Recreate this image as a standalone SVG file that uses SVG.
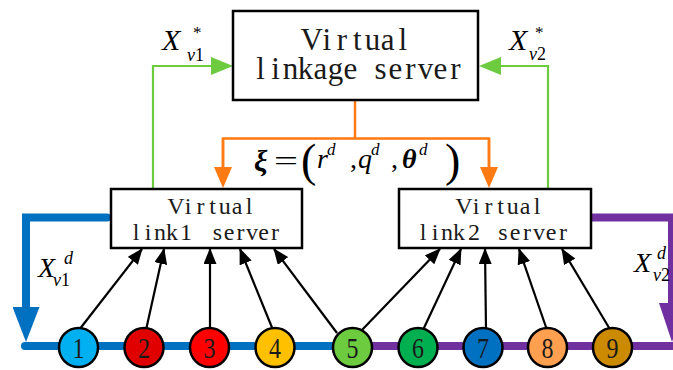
<svg xmlns="http://www.w3.org/2000/svg" width="673" height="370" viewBox="0 0 673 370">
  <style>
    .box { fill: #fff; stroke: #000; stroke-width: 2.5; }
    .cell { font-family: "Liberation Serif", "Times New Roman", serif; fill: #1a1a1a; text-anchor: middle; }
    .big { font-size: 31px; }
    .small { font-size: 24px; }
    .math { font-family: "Liberation Serif", "Times New Roman", serif; font-style: italic; fill: #000; }
    .up { font-style: normal; }
    .num { font-family: "Liberation Serif", "Times New Roman", serif; font-size: 30px; fill: #1a1a1a; text-anchor: middle; }
    .node { stroke: #000; stroke-width: 2.5; }
    .arrow { stroke: #000; stroke-width: 2.2; fill: none; }
    .green { stroke: #6CCB3F; stroke-width: 2.2; fill: none; }
    .orange { stroke: #FF7A12; stroke-width: 2.5; fill: none; }
    .blue { stroke: #0070C0; stroke-width: 8; fill: none; }
    .purple { stroke: #7030A0; stroke-width: 8; fill: none; }
  </style>
  <defs>
    <marker id="head-black" markerUnits="userSpaceOnUse" viewBox="0 0 16 13" markerWidth="16" markerHeight="13" refX="15" refY="6.5" orient="auto">
      <path d="M0,0 L16,6.5 L0,13 Z" fill="#000"/>
    </marker>
    <marker id="head-green" markerUnits="userSpaceOnUse" viewBox="0 0 22 18" markerWidth="22" markerHeight="18" refX="0" refY="9" orient="auto">
      <path d="M0,0 L22,9 L0,18 Z" fill="#6CCB3F"/>
    </marker>
    <marker id="head-orange" markerUnits="userSpaceOnUse" viewBox="0 0 21 18" markerWidth="21" markerHeight="18" refX="0" refY="9" orient="auto">
      <path d="M0,0 L21,9 L0,18 Z" fill="#FF7A12"/>
    </marker>
    <marker id="head-blue" markerUnits="userSpaceOnUse" viewBox="0 0 35 27" markerWidth="35" markerHeight="27" refX="0" refY="13.5" orient="auto">
      <path d="M0,0 L35,13.5 L0,27 Z" fill="#0070C0"/>
    </marker>
    <marker id="head-purple" markerUnits="userSpaceOnUse" viewBox="0 0 39 26" markerWidth="39" markerHeight="26" refX="0" refY="13" orient="auto">
      <path d="M0,0 L39,13 L0,26 Z" fill="#7030A0"/>
    </marker>
  </defs>

  <!-- connectors -->
  <g id="connectors">
    <!-- link 1 feedback loop (blue) and link 2 loop (purple) -->
    <path class="blue" d="M107,217.5 H26 V307" stroke-linecap="round" stroke-linejoin="miter" marker-end="url(#head-blue)"/>
    <path class="blue" d="M25,346 H352" stroke-linecap="round"/>
    <path class="purple" d="M352,346 H680"/>
    <path class="purple" d="M591,217.5 H672 V303" marker-end="url(#head-purple)"/>

    <!-- link servers report to the linkage server (green) -->
    <path class="green" d="M153,189 V66 H211" marker-end="url(#head-green)"/>
    <path class="green" d="M548,189 V66 H501" marker-end="url(#head-green)"/>

    <!-- linkage server broadcasts parameters (orange) -->
    <path class="orange" d="M355,101 V138.5"/>
    <path class="orange" d="M223,167 V138.5 H489 V167"/>
    <path class="orange" d="M223,138.5 V167" marker-end="url(#head-orange)"/>
    <path class="orange" d="M489,138.5 V167" marker-end="url(#head-orange)"/>

    <!-- vehicles to link servers -->
    <line class="arrow" x1="79" y1="330" x2="142" y2="249" marker-end="url(#head-black)"/>
    <line class="arrow" x1="146" y1="330" x2="164" y2="249" marker-end="url(#head-black)"/>
    <line class="arrow" x1="210" y1="330" x2="210" y2="249" marker-end="url(#head-black)"/>
    <line class="arrow" x1="273" y1="330" x2="240" y2="249" marker-end="url(#head-black)"/>
    <line class="arrow" x1="337" y1="333" x2="274" y2="249" marker-end="url(#head-black)"/>
    <line class="arrow" x1="361" y1="331" x2="440" y2="249" marker-end="url(#head-black)"/>
    <line class="arrow" x1="423" y1="330" x2="461" y2="249" marker-end="url(#head-black)"/>
    <line class="arrow" x1="486" y1="330" x2="485" y2="249" marker-end="url(#head-black)"/>
    <line class="arrow" x1="547" y1="330" x2="519" y2="249" marker-end="url(#head-black)"/>
    <line class="arrow" x1="611" y1="331" x2="562" y2="249" marker-end="url(#head-black)"/>
  </g>

  <!-- servers: characters set on a fixed pitch -->
  <g id="linkage-server">
    <rect class="box" x="233" y="11" width="245" height="89"/>
    <text class="cell big" y="50" x="311.6 326.8 342 357.2 372.4 387.6 402.8">Virtual</text>
    <text class="cell big" y="79" x="260.5 275.5 290.5 305.5 320.5 335.5 350.5 365.5 380.5 395.5 410.5 425.5 440.5 455.5">linkage server</text>
  </g>
  <g id="link1-server">
    <rect class="box" x="111" y="189" width="191" height="59"/>
    <text class="cell small" y="214" x="176 188.2 200.4 212.6 224.8 237 249.2">Virtual</text>
    <text class="cell small" y="240" x="136 148 160 172 179 186 206 217.5 229 240.5 252 263.5 275">link 1 server</text>
  </g>
  <g id="link2-server">
    <rect class="box" x="399" y="189" width="192" height="59"/>
    <text class="cell small" y="214" x="464 476.2 488.4 500.6 512.8 525 537.2">Virtual</text>
    <text class="cell small" y="240" x="423 435 447 459 467 474 491 503 515 527 539 551 563">link 2 server</text>
  </g>

  <!-- vehicles -->
  <g id="v1"><circle class="node" cx="78.5" cy="347.5" r="19.5" fill="#00B0F0"/><text class="num" x="78.5" y="358" textLength="12" lengthAdjust="spacingAndGlyphs">1</text></g>
  <g id="v2"><circle class="node" cx="144" cy="347.5" r="19.5" fill="#E00000"/><text class="num" x="144" y="358" textLength="12" lengthAdjust="spacingAndGlyphs">2</text></g>
  <g id="v3"><circle class="node" cx="209.5" cy="347.5" r="19.5" fill="#FF0000"/><text class="num" x="209.5" y="358" textLength="12" lengthAdjust="spacingAndGlyphs">3</text></g>
  <g id="v4"><circle class="node" cx="275" cy="347.5" r="19.5" fill="#FFC000"/><text class="num" x="275" y="358" textLength="12" lengthAdjust="spacingAndGlyphs">4</text></g>
  <g id="v5"><circle class="node" cx="352.5" cy="347.5" r="19.5" fill="#6CCB3F"/><text class="num" x="352.5" y="358" textLength="12" lengthAdjust="spacingAndGlyphs">5</text></g>
  <g id="v6"><circle class="node" cx="418" cy="347.5" r="19.5" fill="#00B050"/><text class="num" x="418" y="358" textLength="12" lengthAdjust="spacingAndGlyphs">6</text></g>
  <g id="v7"><circle class="node" cx="483" cy="347.5" r="19.5" fill="#0070C0"/><text class="num" x="483" y="358" textLength="12" lengthAdjust="spacingAndGlyphs">7</text></g>
  <g id="v8"><circle class="node" cx="547.5" cy="347.5" r="19.5" fill="#FF9F50"/><text class="num" x="547.5" y="358" textLength="12" lengthAdjust="spacingAndGlyphs">8</text></g>
  <g id="v9"><circle class="node" cx="612.5" cy="347.5" r="19.5" fill="#CC8A00"/><text class="num" x="612.5" y="358" textLength="12" lengthAdjust="spacingAndGlyphs">9</text></g>

  <!-- labels -->
  <g id="labels">
    <text class="math" x="162" y="50" font-size="30">X</text>
    <text class="math up" x="193" y="38" font-size="17">*</text>
    <text class="math" x="187" y="61" font-size="18">v<tspan class="up">1</tspan></text>

    <text class="math" x="509" y="50" font-size="30">X</text>
    <text class="math up" x="535" y="38" font-size="17">*</text>
    <text class="math" x="529" y="60" font-size="18">v<tspan class="up">2</tspan></text>

    <text class="math" x="38" y="277" font-size="28">X</text>
    <text class="math" x="64" y="264" font-size="18">d</text>
    <text class="math" x="53" y="286" font-size="18">v<tspan class="up">1</tspan></text>

    <text class="math" x="634" y="272" font-size="28">X</text>
    <text class="math" x="657" y="259" font-size="18">d</text>
    <text class="math" x="653" y="281" font-size="18">v<tspan class="up">2</tspan></text>

    <!-- broadcast parameter vector -->
    <text class="math" font-size="30" font-weight="bold" x="254" y="171">ξ</text>
    <text class="math up" font-size="28" x="274" y="170" textLength="24" lengthAdjust="spacingAndGlyphs">=</text>
    <text class="math up" font-size="46" x="301" y="176">(</text>
    <text class="math" font-size="28" x="317" y="168">r</text>
    <text class="math" font-size="17" x="327" y="155">d</text>
    <text class="math up" font-size="28" x="350" y="168">,</text>
    <text class="math" font-size="28" x="358" y="168">q</text>
    <text class="math" font-size="17" x="371" y="155">d</text>
    <text class="math up" font-size="28" x="391" y="168">,</text>
    <text class="math" font-size="28" font-weight="bold" x="402" y="168">θ</text>
    <text class="math" font-size="17" x="419" y="155">d</text>
    <text class="math up" font-size="46" x="445" y="176">)</text>
  </g>
</svg>
